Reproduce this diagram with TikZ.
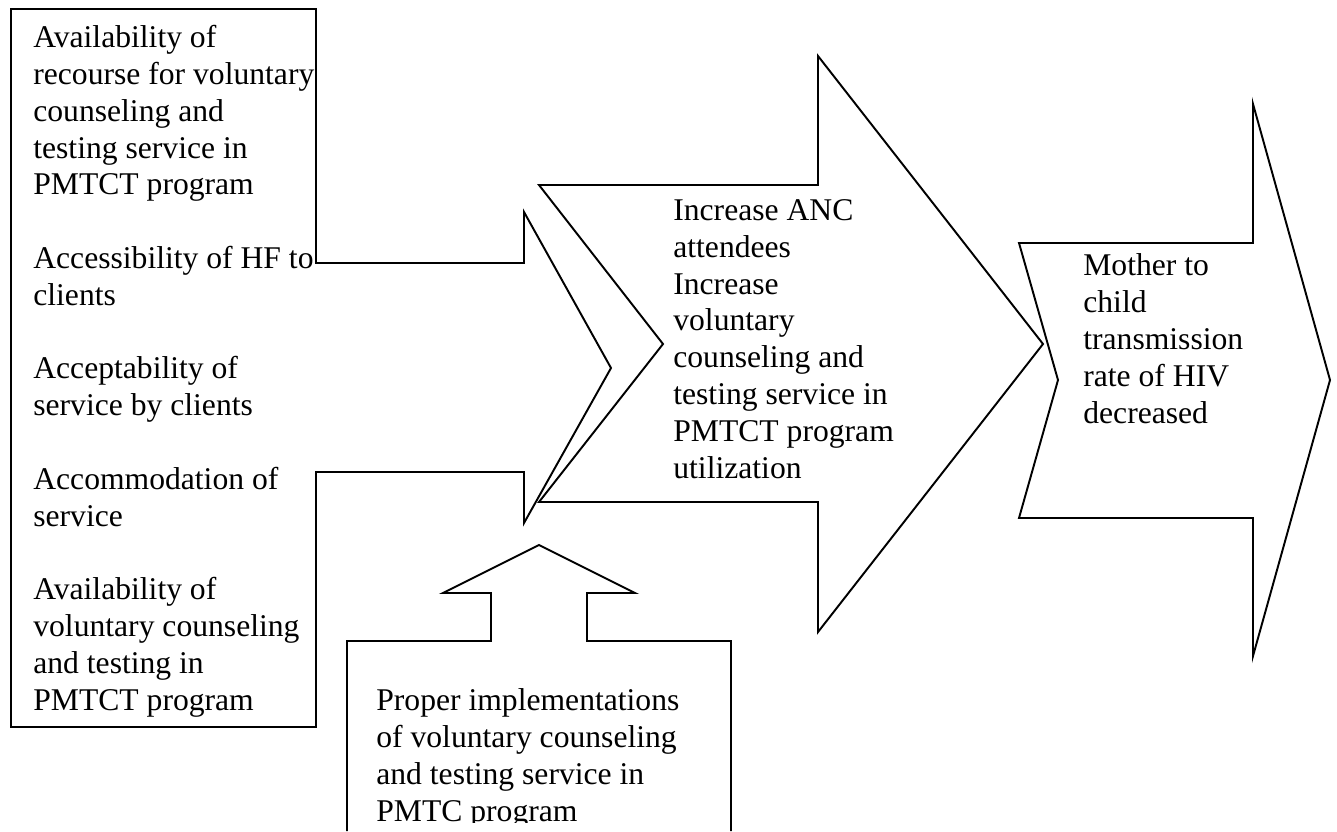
\documentclass[tikz,border=0pt]{standalone}
\usepackage{fontspec}
\setmainfont{Liberation Serif}
\newcommand{\parskipline}{\\[20.94pt]}

\begin{document}
\begin{tikzpicture}[
  x=0.02cm, y=-0.02cm,
  outline/.style={draw, line width=1.1pt, line join=miter},
  boxtext/.style={anchor=base west, inner sep=0pt, align=left,
    font=\fontsize{18}{20.94}\selectfont}
]
\useasboundingbox (0,0) rectangle (1337,831);

% factor box with its arrow pointing right
\draw[outline] (11,9) -- (316,9) -- (316,263) -- (524,263) -- (524,212)
  -- (611,368) -- (524,523) -- (524,472) -- (316,472) -- (316,727)
  -- (11,727) -- cycle;
\node[boxtext] (factors) at (33,710)
  {Availability of\\ recourse for voluntary\\ counseling and\\ testing service in\\ PMTCT program\parskipline
   Accessibility of HF to\\ clients\parskipline
   Acceptability of\\ service by clients\parskipline
   Accommodation of\\ service\parskipline
   Availability of\\ voluntary counseling\\ and testing in\\ PMTCT program};

% middle notched arrow
\draw[outline] (539,185) -- (818,185) -- (818,56) -- (1043,344) -- (818,632)
  -- (818,502) -- (539,502) -- (663,344) -- cycle;
\node[boxtext] (utilization) at (673,478)
  {Increase ANC\\ attendees\\ Increase\\ voluntary\\ counseling and\\ testing service in\\ PMTCT program\\ utilization};

% right notched arrow
\draw[outline] (1019,243) -- (1253,243) -- (1253,104) -- (1330,380) -- (1253,656)
  -- (1253,518) -- (1019,518) -- (1058,380) -- cycle;
\node[boxtext] (outcome) at (1083,423)
  {Mother to\\ child\\ transmission\\ rate of HIV\\ decreased};

% bottom box with its arrow pointing up
\draw[outline] (347,831) -- (347,641) -- (491,641) -- (491,593) -- (443,593)
  -- (539,545) -- (635,593) -- (587,593) -- (587,641) -- (731,641) -- (731,831);
\begin{scope}
  \clip (347,641) rectangle (731,822);
  \node[boxtext] (implementation) at (376,821)
    {Proper implementations\\ of voluntary counseling\\ and testing service in\\ PMTC program};
\end{scope}
\end{tikzpicture}
\end{document}
